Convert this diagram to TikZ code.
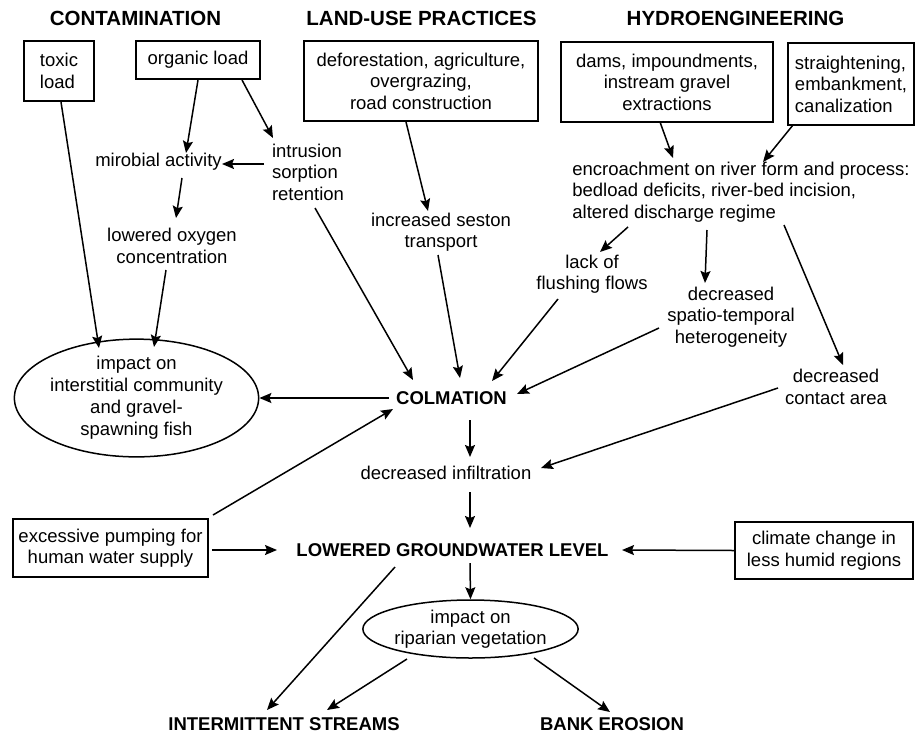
\documentclass[tikz,border=0pt]{standalone}
\usepackage{fontspec}
\setmainfont{Liberation Sans}
\usetikzlibrary{arrows.meta,calc,shapes.geometric}
\begin{document}
\begin{tikzpicture}[x=1pt,y=-1pt,
  every node/.style={font=\fontsize{18.5}{21.5}\selectfont, inner sep=0pt},
  head/.style={font=\fontsize{20.5}{23}\selectfont\bfseries},
  bold/.style={font=\fontsize{18.5}{21.5}\selectfont\bfseries},
  txt/.style={align=center},
  ltxt/.style={align=left},
  boxed/.style={draw, line width=1.7pt, align=center},
  oval/.style={draw, ellipse, line width=1.5pt, align=center},
  arr/.style={line width=1.5pt, -{Stealth[length=12pt,width=10pt,inset=2pt]}}
]
\useasboundingbox (0,0) rectangle (920,734);
% headings
\node[head] (hC) at (135.5,18) {CONTAMINATION};
\node[head] (hL) at (421.5,18) {LAND-USE PRACTICES};
\node[head] (hH) at (735.5,18) {HYDROENGINEERING};
% boxes
\node[boxed, align=left, minimum width=70, minimum height=60] (tox) at (59,71) {toxic\\load};
\node[boxed, minimum width=124, minimum height=38] (org) at (198,60) {organic load};
\node[boxed, minimum width=234, minimum height=80] (def) at (421,81) {deforestation, agriculture,\\overgrazing,\\road construction};
\node[boxed, minimum width=212, minimum height=80] (dams) at (667,82) {dams, impoundments,\\instream gravel\\extractions};
\node[boxed, align=left, minimum width=126, minimum height=82] (str) at (851,84) {straightening,\\embankment,\\canalization};
\node[boxed, minimum width=195, minimum height=58] (pump) at (110.5,548) {excessive pumping for\\human water supply};
\node[boxed, minimum width=178, minimum height=57] (clim) at (824,550.5) {climate change in\\less humid regions};
% texts
\node[txt] (micro) at (158.5,162) {mirobial activity};
\node[ltxt] (intr) at (308,172) {intrusion\\sorption\\retention};
\node[txt] (lowox) at (172,246) {lowered oxygen\\concentration};
\node[txt] (seston) at (441,232) {increased seston\\transport};
\node[ltxt] (encr) at (741,192) {encroachment on river form and process:\\bedload deficits, river-bed incision,\\altered discharge regime};
\node[txt] (lack) at (592,274) {lack of\\flushing flows};
\node[txt] (spatio) at (731,317) {decreased\\spatio-temporal\\heterogeneity};
\node[txt] (contact) at (836,387) {decreased\\contact area};
\node[txt] (infil) at (446,473) {decreased infiltration};
% ellipses
\node[oval, minimum width=214, minimum height=102, font=\fontsize{18.5}{22}\selectfont] (inter) at (136.5,398) {impact on\\interstitial community\\and gravel-\\spawning fish};
\node[oval, minimum width=173, minimum height=58] (ripar) at (470.5,629) {impact on\\riparian vegetation};
% bold labels
\node[bold] (colm) at (451.5,398) {COLMATION};
\node[bold] (lgw) at (452.5,550) {LOWERED GROUNDWATER LEVEL};
\node[bold] (inters) at (284,724) {INTERMITTENT STREAMS};
\node[bold] (bank) at (612,724) {BANK EROSION};
% arrows
\draw[arr] ($(tox)+(2,31)$) -- ($(inter)+(-37.5,-50)$);
\draw[arr] ($(org)+(0,20)$) -- ($(micro)+(27.5,-9)$);
\draw[arr] ($(org)+(44,20)$) -- ($(intr)+(-35,-34)$);
\draw[arr] ($(intr)+(-44,-8)$) -- ($(micro)+(63.5,2)$);
\draw[arr] ($(micro)+(23.5,16)$) -- ($(lowox)+(4,-28)$);
\draw[arr] ($(lowox)+(-6,24)$) -- ($(inter)+(17.5,-51)$);
\draw[arr] ($(intr)+(7,36)$) -- ($(colm)+(-38.5,-18)$);
\draw[arr] ($(def)+(-15,41)$) -- ($(seston)+(-13,-21)$);
\draw[arr] ($(seston)+(-3,23)$) -- ($(colm)+(8.5,-20)$);
\draw[arr] ($(dams)+(-7,40)$) -- ($(encr)+(-68,-34)$);
\draw[arr] ($(str)+(-58,41)$) -- ($(encr)+(22,-30)$);
\draw[arr] ($(encr)+(-113,35)$) -- ($(lack)+(8,-22)$);
\draw[arr] ($(encr)+(-34,38)$) -- ($(spatio)+(-26,-34)$);
\draw[arr] ($(encr)+(43,33)$) -- ($(contact)+(7,-22)$);
\draw[arr] ($(lack)+(-34,25)$) -- ($(colm)+(40.5,-17)$);
\draw[arr] ($(spatio)+(-72,11)$) -- ($(colm)+(65.5,-4)$);
\draw[arr] ($(colm)+(-62.5,0)$) -- (inter.east);
\draw[arr] ($(pump)+(102.5,-33)$) -- ($(colm)+(-58.5,11)$);
\draw[arr] ($(colm)+(18.5,22)$) -- ($(infil)+(24,-16)$);
\draw[arr] ($(contact)+(-58,1)$) -- ($(infil)+(95,-5)$);
\draw[arr] ($(infil)+(24,19)$) -- ($(lgw)+(17.5,-22)$);
\draw[arr] ($(pump.east)+(3,2)$) -- ($(lgw)+(-175.5,0)$);
\draw[arr] (clim.west) -- ($(lgw)+(169.5,0)$);
\draw[arr] ($(lgw)+(17.5,13)$) -- (ripar.north);
\draw[arr] ($(lgw)+(-57.5,17)$) -- ($(inters)+(-17,-14)$);
\draw[arr] ($(ripar)+(-63.5,30)$) -- ($(inters)+(43,-14)$);
\draw[arr] ($(ripar)+(63.5,29)$) -- ($(bank)+(-2,-12)$);
\end{tikzpicture}
\end{document}
